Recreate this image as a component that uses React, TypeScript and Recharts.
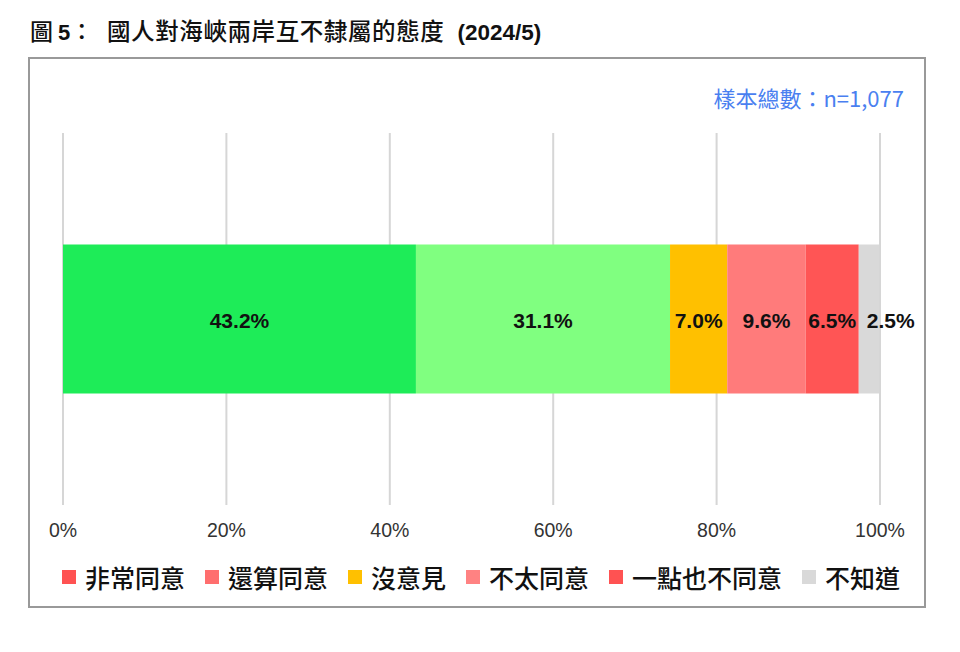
import { Bar, BarChart, CartesianGrid, LabelList, XAxis, YAxis } from "recharts";

const categories = ["非常同意", "還算同意", "沒意見", "不太同意", "一點也不同意", "不知道"];
const shares = [43.2, 31.1, 7.0, 9.6, 6.5, 2.5];
const barColors = ["#1eec58", "#80ff80", "#ffc000", "#ff7b7b", "#ff5555", "#d9d9d9"];
// the source legend does not use the bar colours
const legendColors = ["#ff5252", "#ff6e6e", "#ffc000", "#ff8282", "#ff5252", "#d9d9d9"];
const xTicks = [0, 20, 40, 60, 80, 100];

const keys = categories.map((_, i) => `s${i}`);
const row: Record<string, number | string> = { name: "2024/5" };
keys.forEach((k, i) => {
  row[k] = shares[i];
});
const data = [row];

const latin = '"Liberation Sans", Arial, sans-serif';
const cjk = '"Noto Sans CJK TC", "Noto Sans", sans-serif';

function SegmentLabel(props: any) {
  const { x, y, width, height, value } = props;
  const narrow = width < 30;
  return (
    <text
      x={narrow ? x + 8 : x + width / 2}
      y={y + height / 2 + 3}
      textAnchor={narrow ? "start" : "middle"}
      dominantBaseline="middle"
      fontFamily={latin}
      fontWeight={700}
      fontSize={21}
      fill="#111"
    >
      {Number(value).toFixed(1)}%
    </text>
  );
}

export default function App() {
  return (
    <div style={{ position: "absolute", left: 0, top: 0, width: 960, height: 652, background: "#fff" }}>
      <div style={{ position: "absolute", left: 30, top: 13, whiteSpace: "nowrap", color: "#111" }}>
        <span style={{ fontFamily: cjk, fontSize: 23, fontWeight: 500 }}>圖</span>
        <span style={{ fontFamily: latin, fontSize: 22, fontWeight: 700, marginLeft: 5 }}>5</span>
        <span style={{ fontFamily: cjk, fontSize: 23, fontWeight: 500 }}>：</span>
      </div>
      <div style={{ position: "absolute", left: 107, top: 13, whiteSpace: "nowrap", color: "#111" }}>
        <span style={{ fontFamily: cjk, fontSize: 23.5, fontWeight: 500, letterSpacing: 0.6 }}>
          國人對海峽兩岸互不隸屬的態度
        </span>
        <span style={{ fontFamily: latin, fontSize: 22.5, fontWeight: 700, marginLeft: 13 }}>(2024/5)</span>
      </div>

      <div
        style={{
          position: "absolute",
          left: 28,
          top: 57,
          width: 898,
          height: 551,
          boxSizing: "border-box",
          border: "2px solid #999",
        }}
      />

      <div
        style={{
          position: "absolute",
          right: 56,
          top: 81,
          fontFamily: cjk,
          fontSize: 22,
          color: "#4a7ff0",
          whiteSpace: "nowrap",
        }}
      >
        樣本總數：n=1,077
      </div>

      <div style={{ position: "absolute", left: 0, top: 0 }}>
        <BarChart
          width={960}
          height={652}
          data={data}
          layout="vertical"
          margin={{ top: 133, right: 80, bottom: 117, left: 63 }}
          barCategoryGap="30%"
        >
          <CartesianGrid horizontal={false} stroke="#d6d6d6" strokeWidth={2} />
          <XAxis
            type="number"
            domain={[0, 100]}
            ticks={xTicks}
            tickFormatter={(v) => `${v}%`}
            axisLine={false}
            tickLine={false}
            tickMargin={12}
            height={30}
            tick={{ fill: "#333", fontSize: 19.5, fontFamily: latin }}
            interval={0}
          />
          <YAxis type="category" dataKey="name" hide />
          {keys.map((k, i) => (
            <Bar key={k} dataKey={k} name={categories[i]} stackId="a" fill={barColors[i]} isAnimationActive={false}>
              <LabelList dataKey={k} content={<SegmentLabel />} />
            </Bar>
          ))}
        </BarChart>
      </div>

      <div
        style={{
          position: "absolute",
          left: 62,
          top: 562,
          display: "flex",
          alignItems: "center",
          gap: 20,
          fontFamily: cjk,
          fontSize: 25,
          fontWeight: 500,
          color: "#111",
          whiteSpace: "nowrap",
        }}
      >
        {categories.map((c, i) => (
          <div key={c} style={{ display: "flex", alignItems: "center" }}>
            <span style={{ width: 14, height: 14, background: legendColors[i], marginRight: 9, display: "inline-block" }} />
            <span style={{ lineHeight: "30px" }}>{c}</span>
          </div>
        ))}
      </div>
    </div>
  );
}
